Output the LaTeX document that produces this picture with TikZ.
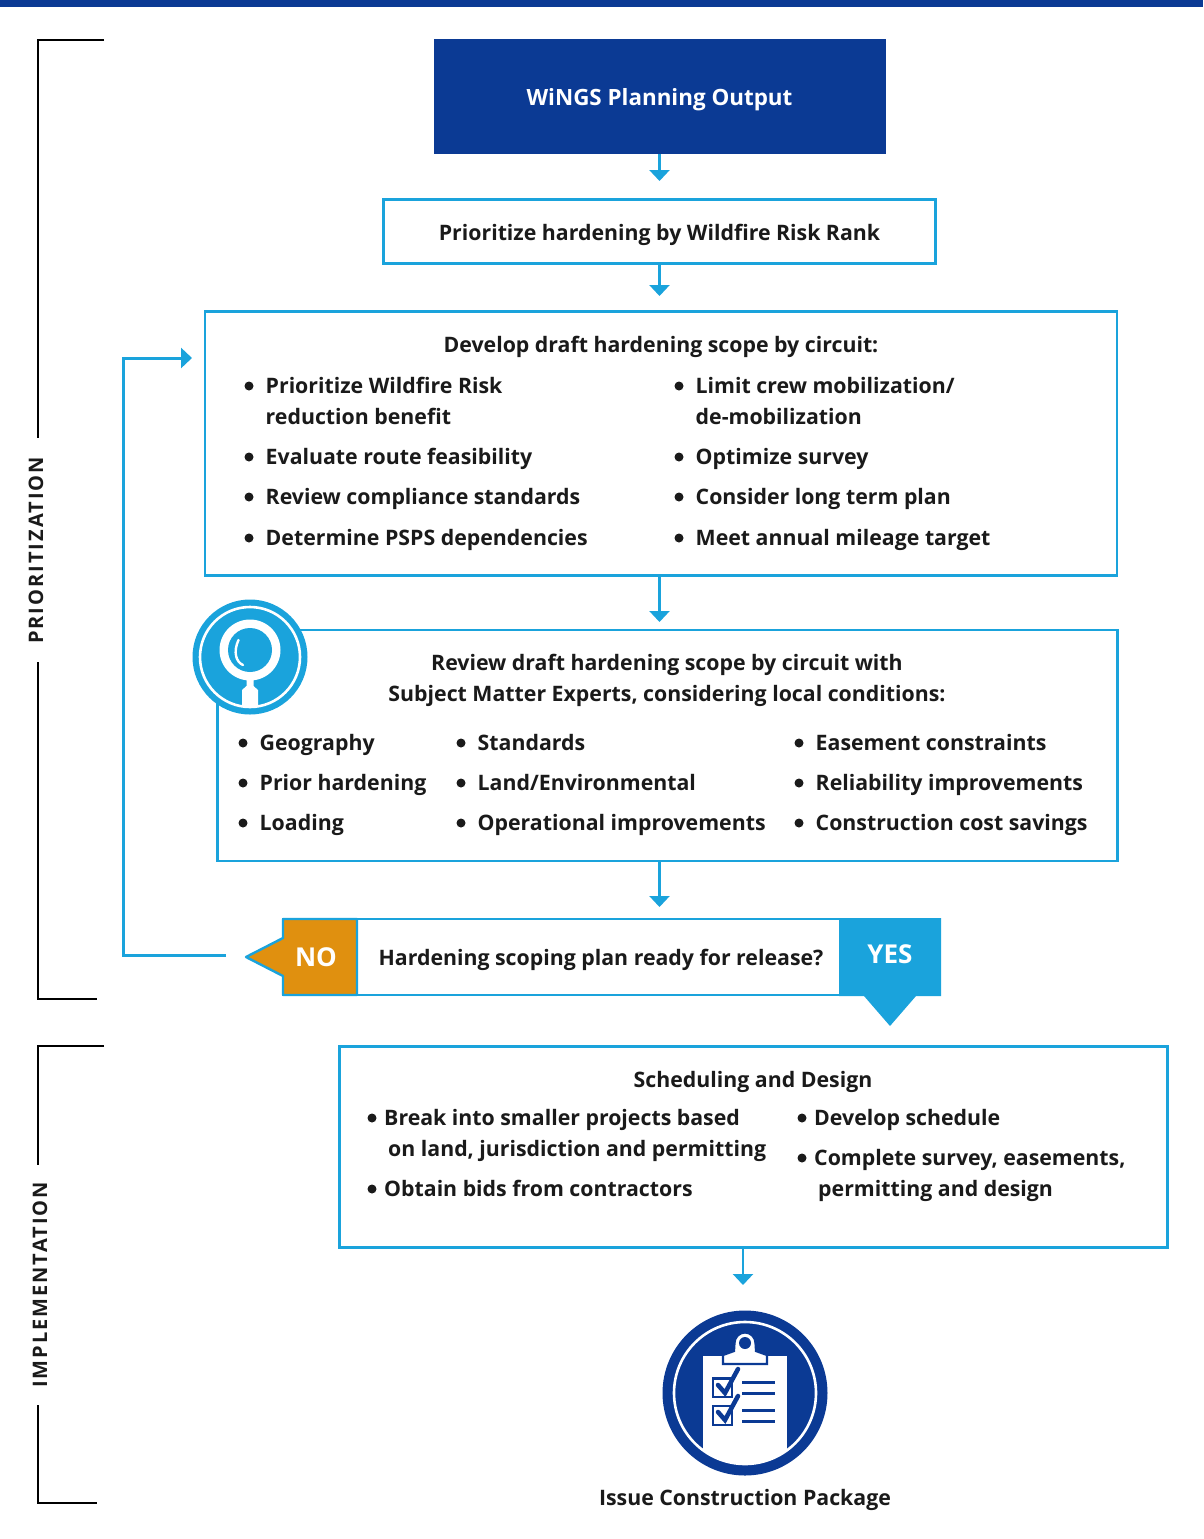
\documentclass[tikz,border=0pt]{standalone}
\usepackage{fontspec}
\setmainfont{Open Sans}
\usetikzlibrary{arrows.meta}
\definecolor{navy}{HTML}{0B3A94}
\definecolor{cy}{HTML}{1AA3DC}
\definecolor{org}{HTML}{E0900F}
\definecolor{ink}{HTML}{1A1A1A}
\tikzset{
 x=1pt,y=-1pt,
 txt/.style={font=\fontsize{21.3}{21.3}\selectfont\bfseries\color{ink},anchor=base west,inner sep=0},
 ctr/.style={txt,anchor=base},
 boxx/.style={draw=cy,line width=2.4pt,fill=white},
 arr/.style={draw=cy,line width=2.4pt,-{Triangle[width=20pt,length=11pt]}},
 brk/.style={draw=black,line width=2pt},
 side/.style={font=\fontsize{20}{20}\selectfont\bfseries\addfontfeature{LetterSpace=10}\color{ink},rotate=90,inner sep=0},
}
\newcommand{\bul}[3]{\fill[ink] (#1,#2-7) circle (4.5);\node[txt] at (#1+16.5,#2) {#3};}
\newcommand{\subbul}[3]{\fill[ink] (#1,#2-7) circle (4.5);\node[txt] at (#1+12,#2) {#3};}
\begin{document}
\begin{tikzpicture}
\useasboundingbox (0,0) rectangle (1203,1539);
\fill[white] (0,0) rectangle (1203,1539);
\fill[navy] (0,0) rectangle (1203,7);
% brackets
\draw[brk] (104,40) -- (38,40) -- (38,438);
\draw[brk] (38,662) -- (38,999) -- (97,999);
\draw[brk] (104,1046) -- (38,1046) -- (38,1165);
\draw[brk] (38,1405) -- (38,1503) -- (97,1503);
\node[side] (lp) at (36,550.5) {PRIORITIZATION};
\node[side] (li) at (40,1285) {IMPLEMENTATION};
% boxes
\node[draw=none,fill=navy,minimum width=452pt,minimum height=115pt,inner sep=0,font=\fontsize{22.4}{22.4}\selectfont\bfseries\color{white}] (top) at (659.5,96.5) {\raisebox{-8.5pt}[0pt][0pt]{WiNGS Planning Output}};
\node[boxx,minimum width=552pt,minimum height=64pt,inner sep=0] (rank) at (659.5,231.5) {};
\node[ctr] at (659.5,240) {Prioritize hardening by Wildfire Risk Rank};
\node[boxx,minimum width=912pt,minimum height=264pt,inner sep=0] (draft) at (661,443.5) {};
\node[boxx,minimum width=900pt,minimum height=231pt,inner sep=0] (review) at (667.5,745.5) {};
\node[boxx,minimum width=828pt,minimum height=201pt,inner sep=0] (sched) at (753.5,1147) {};
\coordinate (a1) at (659.5,181);
\coordinate (a2) at (659.5,296);
\coordinate (a3) at (659.5,622);
\coordinate (a4) at (659.5,907);
\coordinate (a5) at (743,1285);
\draw[arr] (top.south -| a1) -- (a1);
\draw[arr] (rank.south -| a2) -- (a2);
\draw[arr] (draft.south -| a3) -- (a3);
\draw[arr] (review.south -| a4) -- (a4);
\draw[arr] (sched.south -| a5) -- (a5);
% draft text
\node[ctr] at (661,352) {Develop draft hardening scope by circuit:};
\bul{249}{393}{Prioritize Wildfire Risk}
\node[txt] at (265.5,424) {reduction benefit};
\bul{249}{464}{Evaluate route feasibility}
\bul{249}{504}{Review compliance standards}
\bul{249}{545}{Determine PSPS dependencies}
\bul{679}{393}{Limit crew mobilization/}
\node[txt] at (695.5,424) {de-mobilization};
\bul{679}{464}{Optimize survey}
\bul{679}{504}{Consider long term plan}
\bul{679}{545}{Meet annual mileage target}
% review text
\node[ctr] at (667,670) {Review draft hardening scope by circuit with};
\node[ctr] at (667,701) {Subject Matter Experts, considering local conditions:};
\bul{243}{750}{Geography}
\bul{243}{790}{Prior hardening}
\bul{243}{830}{Loading}
\bul{461}{750}{Standards}
\bul{461}{790}{Land/Environmental}
\bul{461}{830}{Operational improvements}
\bul{799}{750}{Easement constraints}
\bul{799}{790}{Reliability improvements}
\bul{799}{830}{Construction cost savings}
% magnifier
\fill[cy] (250,657) circle (57.5);
\draw[white,line width=2.6pt] (250,657) circle (50);
\fill[white] (250,650) circle (30.5);
\fill[cy] (250,650) circle (22);
\fill[white] (246.5,678) -- (253.5,678) -- (253.5,686) -- (258,690) -- (258,706) -- (242,706) -- (242,690) -- (246.5,686) -- cycle;
\draw[white,line width=2.4pt,line cap=round] (238.5,640) .. controls (233,652) and (236,662) .. (243,665);
% decision
\path[draw=cy,line width=2.4pt,fill=white] (283,919) rectangle (940,995);
\path[draw=cy,line width=2.4pt,fill=org,line join=round] (357,919) -- (283,919) -- (283,938) -- (246,957) -- (283,976) -- (283,995) -- (357,995) -- cycle;
\fill[cy] (839,918) -- (941,918) -- (941,996) -- (916,996) -- (890,1026) -- (864,996) -- (839,996) -- cycle;
\node[font=\fontsize{26}{26}\selectfont\bfseries\color{white},inner sep=0] (no) at (316,957) {NO};
\node[font=\fontsize{26}{26}\selectfont\bfseries\color{white},inner sep=0] (yes) at (890,954) {YES};
\node[ctr] at (601,965) {Hardening scoping plan ready for release?};
\coordinate (lb) at (226,955);
\coordinate (lc) at (123.5,955.5);
\coordinate (lt) at (123.5,358);
\coordinate (lh) at (192,358);
\draw[arr,line width=3pt] (lb |- lc) -- (lc) -- (lt) -- (lh);
% schedule
\node[ctr] at (753,1087) {Scheduling and Design};
\subbul{372}{1125}{Break into smaller projects based}
\node[txt] at (388,1156) {on land, jurisdiction and permitting};
\subbul{372}{1196}{Obtain bids from contractors}
\subbul{802}{1125}{Develop schedule}
\subbul{802}{1165}{Complete survey, easements,}
\node[txt] at (818,1196) {permitting and design};
% clipboard icon
\fill[navy] (745,1393) circle (82.5);
\begin{scope}
\clip (745,1393) circle (71);
\fill[white] (703,1356) rectangle (787,1470);
\end{scope}
\draw[white,line width=2.6pt] (745,1393) circle (71);
\path[draw=navy,line width=2.2pt,fill=white] (723,1364) -- (723,1355) -- (734,1351) -- (734.5,1343) arc (180:360:10.5) -- (756,1351) -- (767,1355) -- (767,1364) -- cycle;
\fill[navy] (745,1343) circle (6);
\draw[navy,line width=2.2pt] (713,1378.5) rectangle (732,1397);
\draw[navy,line width=2.2pt] (713,1406) rectangle (732,1425);
\draw[navy,line width=4.5pt,line cap=round] (718,1385) -- (725,1393) -- (738,1369);
\draw[navy,line width=4.5pt,line cap=round] (718,1412) -- (725,1420) -- (738,1396);
\foreach \y in {1382.5,1393.5,1410.5,1421.5}{\fill[navy] (742,\y-1.7) rectangle (775,\y+1.7);}
\node[ctr] (pkg) at (745,1505) {Issue Construction Package};
\end{tikzpicture}
\end{document}
